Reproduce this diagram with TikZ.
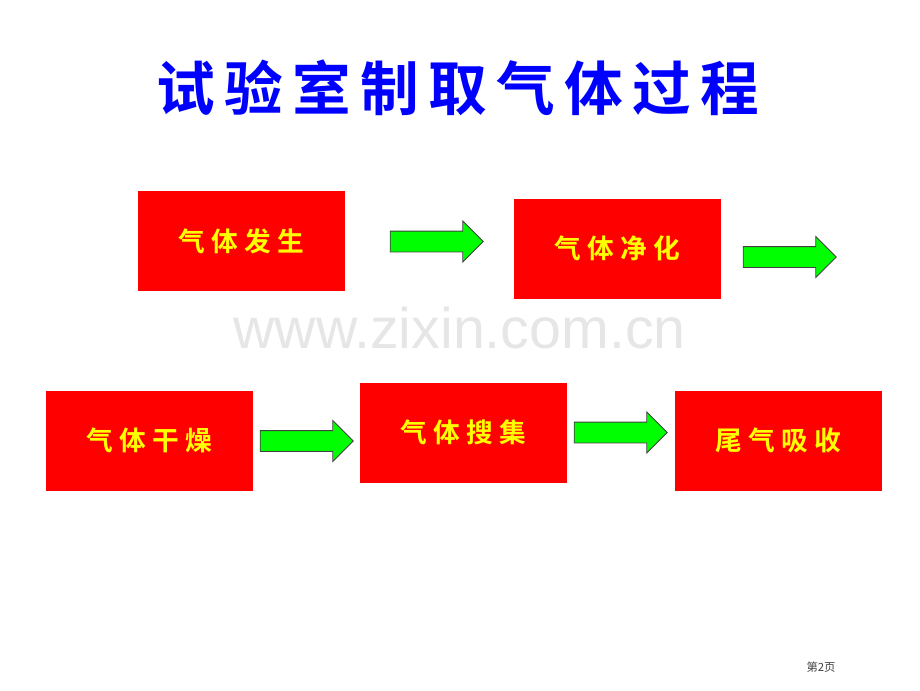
\documentclass[tikz,border=0pt]{standalone}
\usepackage{fontspec}
\usepackage{xcolor}
\usetikzlibrary{positioning, shapes.arrows}
\newfontfamily\cjk{Noto Sans CJK SC}
\newfontfamily\cjktitle[LetterSpace=16]{Noto Sans CJK SC Bold}
\newfontfamily\cjkbox[LetterSpace=24]{Noto Sans CJK SC Bold}
\setsansfont{Liberation Sans}
\definecolor{stagered}{HTML}{FF0000}
\definecolor{stageyellow}{HTML}{FFFF00}
\definecolor{titleblue}{HTML}{0000FF}
\definecolor{flowgreen}{HTML}{00FF00}
\definecolor{flowedge}{HTML}{404040}
\definecolor{markgray}{HTML}{E6E6E6}

\tikzset{
  stage/.style={rectangle, fill=stagered, text=stageyellow, inner sep=0pt,
    minimum width=155.25pt, minimum height=75pt, font=\cjkbox\fontsize{20}{24}\selectfont},
  flow/.style={single arrow, draw=flowedge, fill=flowgreen, line width=0.6pt,
    inner sep=7.5pt, single arrow head extend=7.5pt, single arrow tip angle=90,
    minimum height=69.75pt, anchor=center}
}

\begin{document}
\begin{tikzpicture}[x=0.75pt, y=-0.75pt]
                \useasboundingbox (0,0) rectangle (920,690);

                \node[text=titleblue, font=\cjktitle\fontsize{44}{50}\selectfont] (title) at (458, 88) {试验室制取气体过程};

                % watermark
                \node[text=markgray, font=\sffamily\fontsize{43}{50}\selectfont] (mark) at (459.5, 328) {www.zixin.com.cn};

                \node[stage] (fasheng) at (241.5, 241) {气体发生};
                \node[stage] (jinghua) at (617, 248.5) {气体净化};
                \node[stage] (ganzao) at (149.5, 440.5) {气体干燥};
                \node[stage] (shouji) at (463.5, 432.5) {气体搜集};
                \node[stage] (weiqi) at (778, 440.5) {尾气吸收};

                \node[flow] (f1) at (431.5, 241.5) {};
                \node[flow] (f2) at (784.5, 257) {};
                \node[flow] (f3) at (301.5, 441) {};
                \node[flow] (f4) at (615.5, 432.5) {};

                \node[text=black!75, font=\cjk\fontsize{8.5}{10}\selectfont] (page) at (821, 667) {第2页};
            \end{tikzpicture}
\end{document}
